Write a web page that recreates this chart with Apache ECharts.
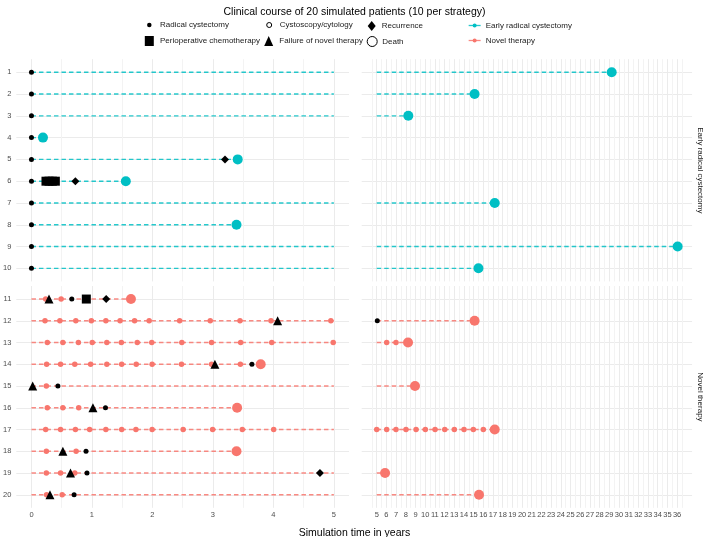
<!DOCTYPE html>
<html><head><meta charset="utf-8">
<script src="https://cdn.jsdelivr.net/npm/echarts@6/dist/echarts.min.js"></script>
<style>html,body{margin:0;padding:0;background:#fff}#c{width:709px;height:537px}</style>
</head><body><div id="c"></div>
<script>
// ---------------- data ----------------
const patientsERC = [1, 2, 3, 4, 5, 6, 7, 8, 9, 10];
const patientsNT = [11, 12, 13, 14, 15, 16, 17, 18, 19, 20];
// time of death (years) per patient
const deathERC = [29.25, 15.1, 8.26, 0.19, 3.41, 1.56, 17.18, 3.39, 36.06, 15.5];
const deathNT = [1.645, 15.1, 8.23, 3.79, 8.95, 3.40, 17.18, 3.39, 5.86, 15.56];
// [patient, time]
const radicalCystectomy = [[1, 0], [2, 0], [3, 0], [4, 0], [5, 0], [6, 0], [7, 0], [8, 0], [9, 0], [10, 0],
  [11, 0.667], [12, 5.06], [14, 3.645], [15, 0.437], [16, 1.224], [18, 0.902], [19, 0.918], [20, 0.705]];
const chemotherapy = [[6, 0.24], [6, 0.29], [6, 0.345], [6, 0.395], [11, 0.907]];
const recurrence = [[5, 3.2], [6, 0.726], [11, 1.235], [19, 4.77]];
const failure = [[11, 0.29], [12, 4.07], [14, 3.033], [15, 0.02], [16, 1.016], [18, 0.519], [19, 0.645], [20, 0.306]];
// cystoscopy/cytology times for patients 11..20
const cystoscopyNT = [
  [0.235, 0.49],
  [0.224, 0.47, 0.733, 0.99, 1.23, 1.465, 1.705, 1.946, 2.45, 2.956, 3.448, 3.96, 4.95],
  [0.262, 0.519, 0.776, 1.005, 1.246, 1.486, 1.749, 1.989, 2.486, 2.978, 3.459, 3.973, 4.989, 6.03, 6.99],
  [0.251, 0.481, 0.716, 0.978, 1.246, 1.492, 1.732, 1.995, 2.481, 2.978, 3.454],
  [0.246],
  [0.262, 0.519, 0.781],
  [0.235, 0.481, 0.727, 0.962, 1.23, 1.492, 1.727, 1.995, 2.508, 2.995, 3.486, 4.005, 5.0, 6.03, 6.99, 8.02, 9.06, 10.02, 11.02, 12.02, 13.01, 14.01, 14.97, 16.0],
  [0.246, 0.738],
  [0.246, 0.481, 0.716],
  [0.25, 0.508]
];
const tickLabelsLeft = [0, 1, 2, 3, 4, 5];
const tickLabelsRight = [5, 6, 7, 8, 9, 10, 11, 12, 13, 14, 15, 16, 17, 18, 19, 20, 21, 22, 23, 24, 25, 26, 27, 28, 29, 30, 31, 32, 33, 34, 35, 36];
const SPLIT = 5; // left panel 0-5 years, right panel 5+ years

// ---------------- styles ----------------
const TEAL = '#00BFC4', SALMON = '#F8766D';
const FONT = '"Liberation Sans", Arial, Helvetica, sans-serif';
const AXIS_TXT = '#4d4d4d';

const grids = [
  { left: 14, top: 59.2, width: 335, height: 222.2 },
  { left: 361.7, top: 59.2, width: 330.4, height: 222.2 },
  { left: 14, top: 286, width: 335, height: 221.8 },
  { left: 361.7, top: 286, width: 330.4, height: 221.8 }
];

function halfSteps(a, b) { const r = []; for (let v = a; v <= b + 1e-9; v += 0.5) r.push(+v.toFixed(2)); return r; }

const xAxes = grids.map((g, i) => {
  const isLeft = i % 2 === 0, isBottom = i >= 2;
  const labels = isLeft ? tickLabelsLeft : tickLabelsRight;
  const lo = labels[0], hi = labels[labels.length - 1];
  const pad = (hi - lo) * 0.05;
  const gl = isLeft ? halfSteps(lo, hi) : halfSteps(lo - 0.5, hi + 0.5);
  return {
    type: 'value', gridIndex: i, min: lo - pad, max: hi + pad,
    axisLine: { show: false },
    axisTick: { show: false, customValues: gl },
    axisLabel: { show: isBottom, customValues: labels, fontSize: 7.5, color: AXIS_TXT, fontFamily: FONT, margin: 3 },
    splitLine: { show: true, lineStyle: { color: isLeft ? ['#EBEBEB', '#F3F3F3'] : ['#F3F3F3', '#EBEBEB'], width: 1 } }
  };
});

const yAxes = grids.map((g, i) => {
  const isLeft = i % 2 === 0, isBottom = i >= 2;
  const rows = isBottom ? patientsNT : patientsERC;
  return {
    type: 'value', gridIndex: i, inverse: true,
    min: rows[0] - 0.6, max: rows[rows.length - 1] + 0.6,
    axisLine: { show: false },
    axisTick: { show: false, customValues: rows },
    axisLabel: { show: isLeft, customValues: rows, fontSize: 7.5, color: AXIS_TXT, fontFamily: FONT, margin: 5 },
    splitLine: { show: true, lineStyle: { color: '#EBEBEB', width: 1 } }
  };
});

function gridOf(patient, time) { return (patient <= 10 ? 0 : 2) + (time >= SPLIT ? 1 : 0); }

const series = [];
// dashed strategy lines, split between the two panels
function addLines(patients, deaths, color, name) {
  patients.forEach((p, k) => {
    const d = deaths[k];
    const segs = [[0, Math.min(d, SPLIT), gridOf(p, 0)]];
    if (d > SPLIT) segs.push([SPLIT, d, gridOf(p, SPLIT)]);
    segs.forEach(s => series.push({
      type: 'line', name, xAxisIndex: s[2], yAxisIndex: s[2], z: 1,
      data: [[s[0], p], [s[1], p]], symbol: 'none', silent: true,
      itemStyle: { color }, lineStyle: { color, width: 1.4, type: [4.5, 3], opacity: 0.85 }
    }));
  });
}
addLines(patientsERC, deathERC, TEAL, 'Early radical cystectomy');
addLines(patientsNT, deathNT, SALMON, 'Novel therapy');

function addPoints(events, name, symbol, size, color, z) {
  for (let gi = 0; gi < 4; gi++) {
    const data = events.filter(e => gridOf(e[0], e[1]) === gi).map(e => [e[1], e[0]]);
    if (!data.length) continue;
    series.push({
      type: 'scatter', name, xAxisIndex: gi, yAxisIndex: gi, z, symbol, symbolSize: size,
      data, silent: true, itemStyle: { color, opacity: 1 }
    });
  }
}
const cystoEvents = [];
cystoscopyNT.forEach((arr, k) => arr.forEach(t => cystoEvents.push([patientsNT[k], t])));
addPoints(cystoEvents, 'Cystoscopy/cytology', 'circle', 5.5, SALMON, 2);
addPoints(patientsERC.map((p, k) => [p, deathERC[k]]), 'Death', 'circle', 10, TEAL, 3);
addPoints(patientsNT.map((p, k) => [p, deathNT[k]]), 'Death', 'circle', 10, SALMON, 3);
addPoints(radicalCystectomy, 'Radical cystectomy', 'circle', 5, '#000', 4);
addPoints(chemotherapy, 'Perioperative chemotherapy', 'rect', 9, '#000', 4);
addPoints(failure, 'Failure of novel therapy', 'triangle', 9, '#000', 4);
addPoints(recurrence, 'Recurrence', 'diamond', 8, '#000', 4);

// ---------------- legend ----------------
const BLACK = { color: '#000', borderWidth: 0 };
const OPEN = { color: '#fff', borderColor: '#000', borderWidth: 1 };
function legendItem(name, cx, textX, cy, size, icon, style) {
  return {
    data: [{ name, icon, itemStyle: style }],
    left: cx - size / 2, top: cy - 5, itemWidth: size, itemHeight: 10, padding: 0,
    selectedMode: false, symbolKeepAspect: true,
    textStyle: { fontSize: 8, color: '#1a1a1a', fontFamily: FONT, padding: [0, 0, 0, Math.max(0, textX - (cx + size / 2 + 5))] }
  };
}
function legendLine(name, x0, cy) {
  return {
    data: [{ name }], left: x0, top: cy - 4.5, itemWidth: 12, itemHeight: 5, padding: 0,
    selectedMode: false, lineStyle: { type: 'solid', width: 1.3 },
    textStyle: { fontSize: 8, color: '#1a1a1a', fontFamily: FONT }
  };
}
const legends = [
  legendItem('Radical cystectomy', 149.3, 160, 26, 4.5, 'circle', BLACK),
  legendItem('Perioperative chemotherapy', 149.3, 160, 41, 9, 'rect', BLACK),
  legendItem('Cystoscopy/cytology', 268.7, 279.3, 26, 5, 'circle', OPEN),
  legendItem('Failure of novel therapy', 268.7, 279.3, 41, 9, 'triangle', BLACK),
  legendItem('Recurrence', 371.7, 381.7, 26, 8, 'diamond', BLACK),
  legendItem('Death', 371.7, 381.7, 41, 10, 'circle', OPEN),
  legendLine('Early radical cystectomy', 468, 26),
  legendLine('Novel therapy', 468, 41)
];

const chart = echarts.init(document.getElementById('c'), null, { renderer: 'canvas' });
chart.setOption({
  animation: false,
  backgroundColor: '#fff',
  textStyle: { fontFamily: FONT },
  title: [
    { text: 'Clinical course of 20 simulated patients (10 per strategy)', left: 'center', top: 2,
      textStyle: { fontSize: 10.5, fontWeight: 'normal', color: '#000', fontFamily: FONT } },
    { text: 'Simulation time in years', left: 'center', top: 523,
      textStyle: { fontSize: 10.5, fontWeight: 'normal', color: '#000', fontFamily: FONT } }
  ],
  legend: legends,
  grid: grids,
  xAxis: xAxes,
  yAxis: yAxes,
  series,
  graphic: [
    { type: 'text', x: 700, y: (grids[0].top + grids[0].height / 2), rotation: -Math.PI / 2,
      style: { text: 'Early radical cystectomy', fontSize: 8, fill: '#1a1a1a', fontFamily: FONT, align: 'center', verticalAlign: 'middle' } },
    { type: 'text', x: 700, y: (grids[2].top + grids[2].height / 2), rotation: -Math.PI / 2,
      style: { text: 'Novel therapy', fontSize: 8, fill: '#1a1a1a', fontFamily: FONT, align: 'center', verticalAlign: 'middle' } }
  ]
});
</script></body></html>
